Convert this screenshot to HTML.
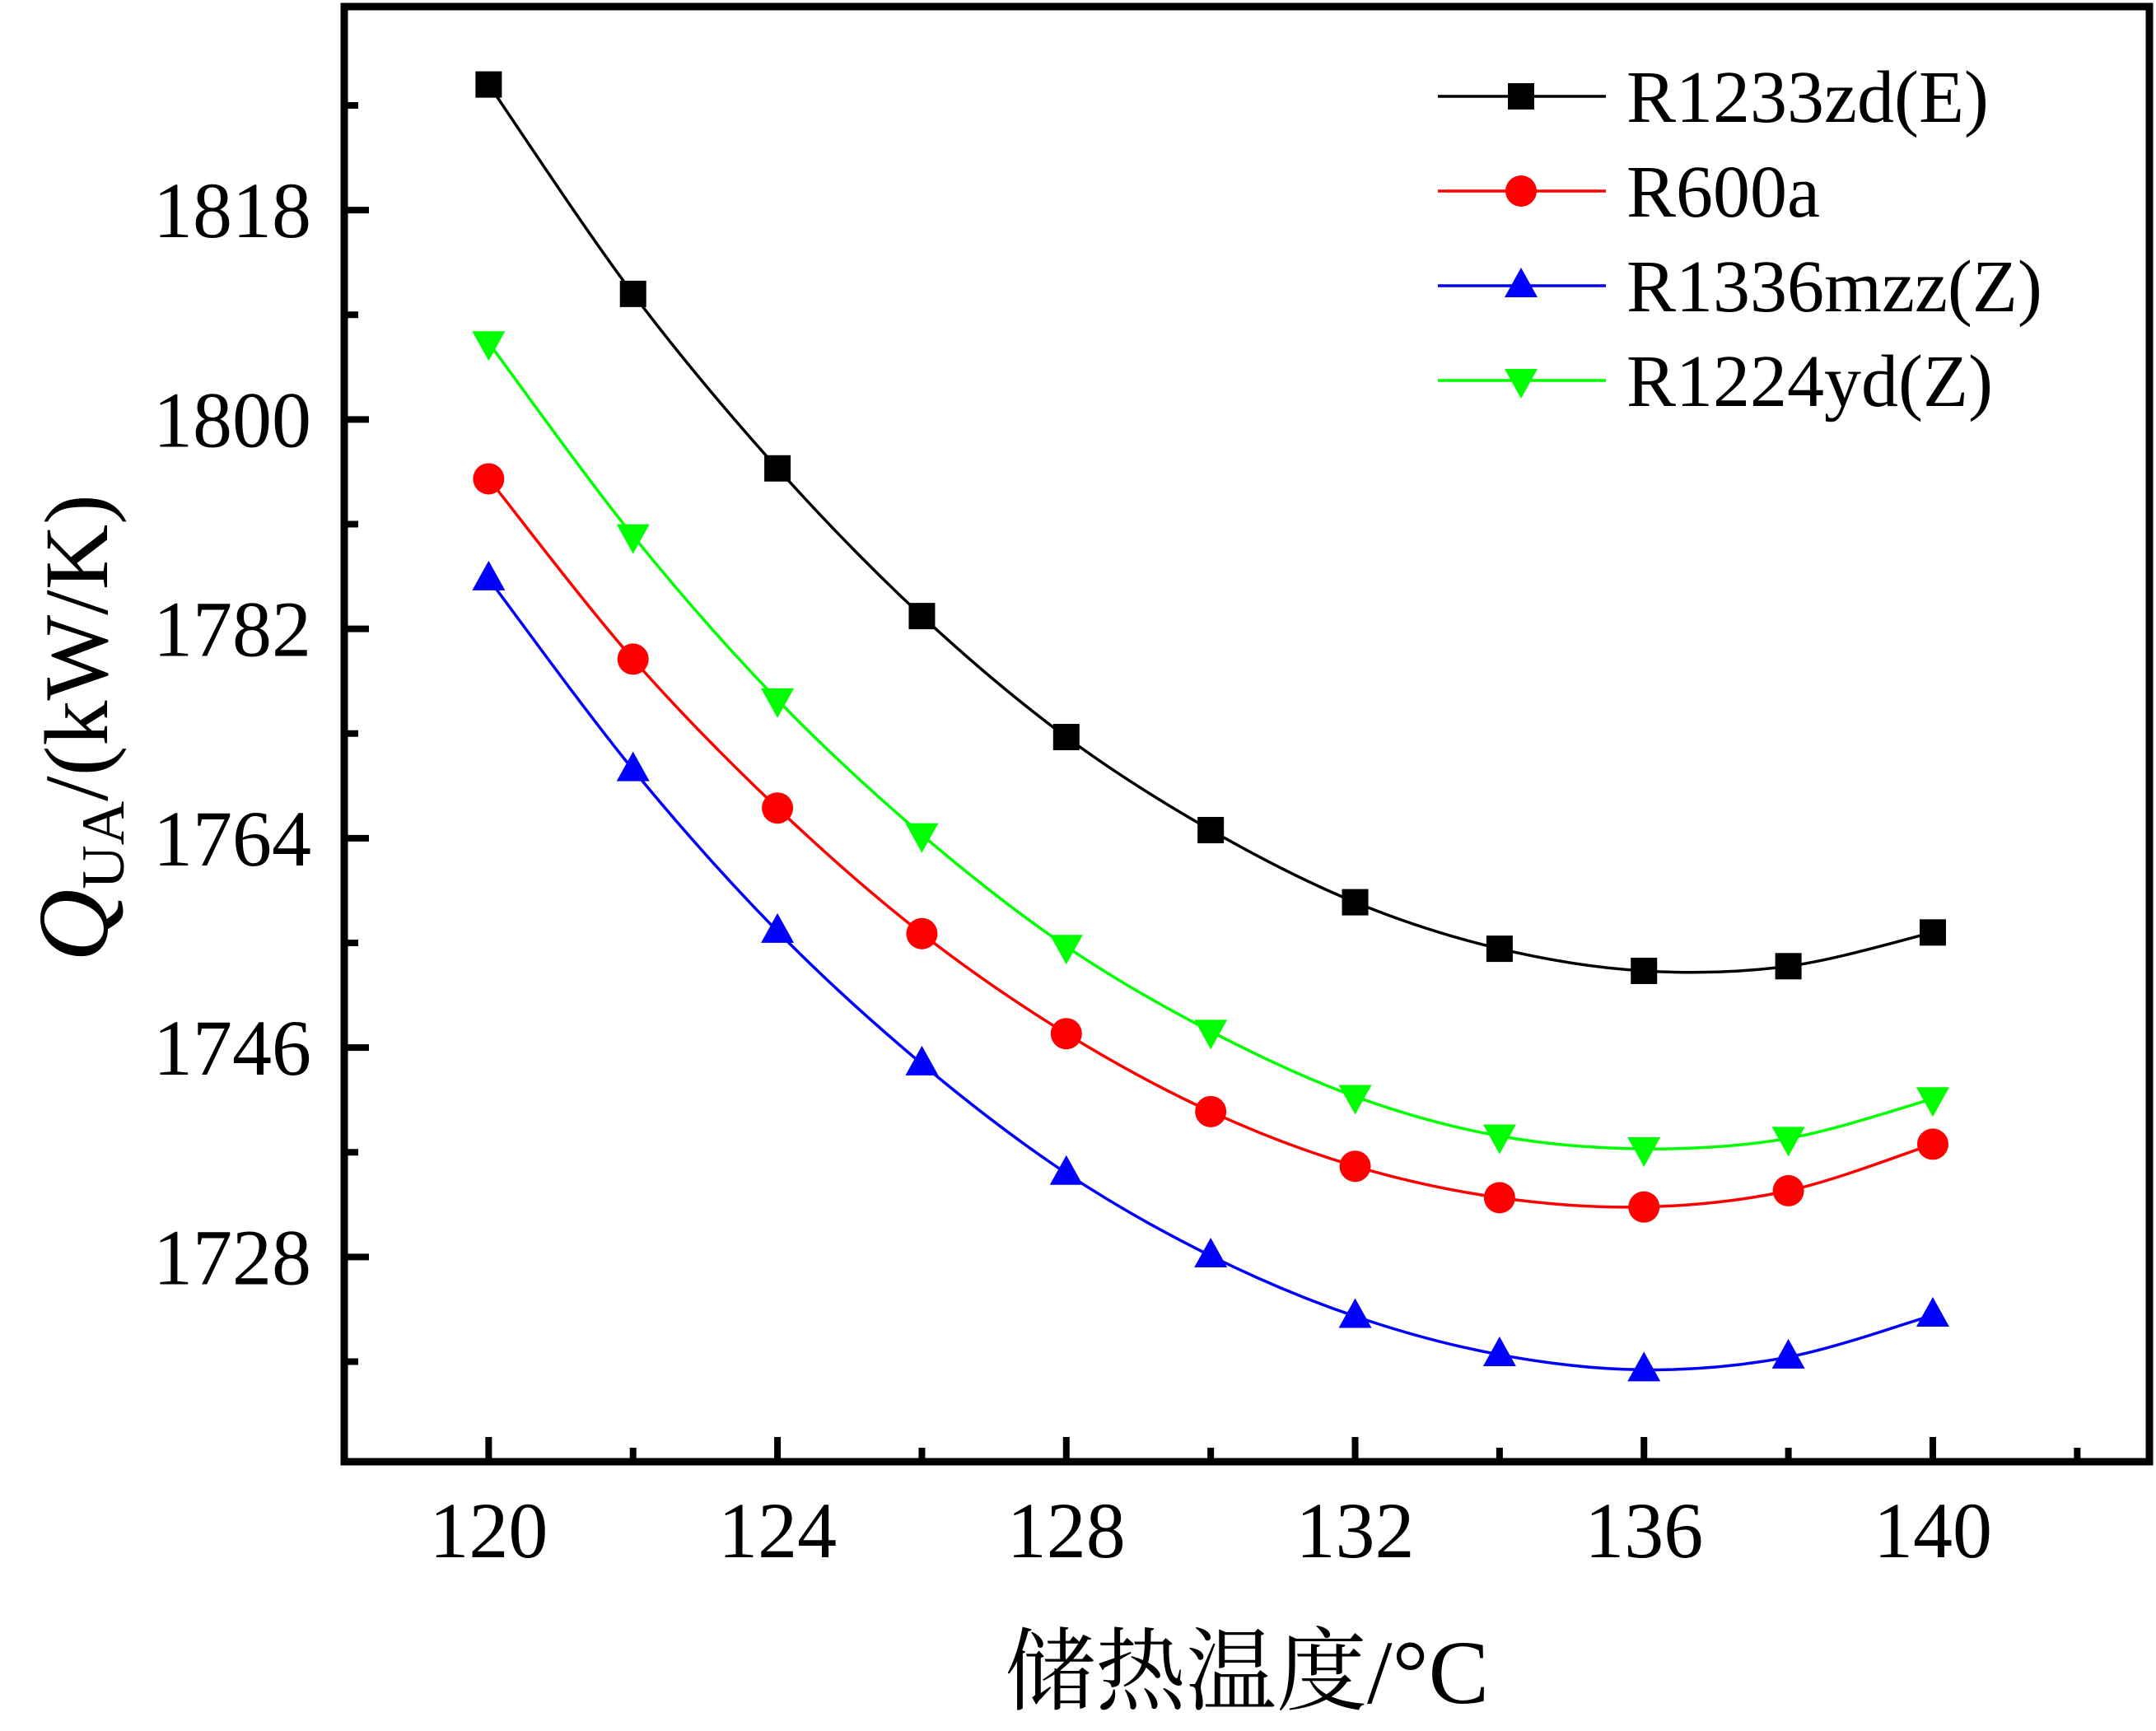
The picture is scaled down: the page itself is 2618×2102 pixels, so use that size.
<!DOCTYPE html>
<html><head><meta charset="utf-8"><style>
html,body{margin:0;padding:0;background:#fff;}
svg{display:block;}
text{font-family:"Liberation Serif","Noto Serif CJK SC","Noto Sans CJK SC",serif;fill:#000;}
</style></head><body>
<svg id="chart" width="2618" height="2102" viewBox="0 0 2618 2102">
<g id="plot"></g>
<g id="axes"></g>
<g id="legend"></g>
<text x="1514" y="2068" font-size="110" text-anchor="middle">储热温度/°C</text>
<text transform="translate(130,884) rotate(-90)" font-size="110" text-anchor="middle"><tspan font-style="italic" font-size="122">Q</tspan><tspan font-size="74" dy="20">UA</tspan><tspan dy="-20">/(kW/K)</tspan></text>
</svg>
<script>
const categories = [120,122,124,126,128,130,132,134,136,138,140];
const seriesR1233 = [1828.8,1810.8,1795.8,1783.1,1772.7,1764.7,1758.5,1754.5,1752.6,1753.0,1755.9];
const seriesR600a = [1794.9,1779.4,1766.6,1755.8,1747.2,1740.5,1735.8,1733.1,1732.3,1733.7,1737.7];
const seriesR1336 = [1786.3,1769.9,1756.0,1744.6,1735.2,1728.1,1722.9,1719.6,1718.3,1719.4,1723.0];
const seriesR1224 = [1806.6,1790.0,1775.9,1764.3,1754.7,1747.4,1741.8,1738.4,1737.3,1738.2,1741.6];
const seriesNames = ["R1233zd(E)","R600a","R1336mzz(Z)","R1224yd(Z)"];
const xTickLabels = [120,124,128,132,136,140];
const xMinorTicks = [122,126,130,134,138,142];
const yTickLabels = [1728,1746,1764,1782,1800,1818];
const yMinorTicks = [1719,1737,1755,1773,1791,1809,1827];

const NS="http://www.w3.org/2000/svg";
const X0=418,X1=2610,Y0=1775,Y1=8;
const xMin=118,xMax=143,yMin=1710.4,yMax=1835.5;
function sx(v){return X0+(v-xMin)/(xMax-xMin)*(X1-X0);}
function sy(v){return Y0-(v-yMin)/(yMax-yMin)*(Y0-Y1);}
function mk(tag,attrs,parent){const e=document.createElementNS(NS,tag);for(const k in attrs)e.setAttribute(k,attrs[k]);parent.appendChild(e);return e;}
const plot=document.getElementById('plot'),axes=document.getElementById('axes'),legend=document.getElementById('legend');

const styles=[{c:"#000000",m:"square"},{c:"#ff0000",m:"circle"},{c:"#0000ff",m:"up"},{c:"#00ff00",m:"down"}];
const allSeries=[seriesR1233,seriesR600a,seriesR1336,seriesR1224];

function marker(type,x,y,c,parent){
  let e;
  if(type==="square"){e=mk('rect',{x:x-16,y:y-16,width:32,height:32,fill:c},parent);}
  else if(type==="circle"){e=mk('circle',{cx:x,cy:y,r:19,fill:c},parent);}
  else if(type==="up"){e=mk('polygon',{points:`${x},${y-22} ${x-20},${y+14} ${x+20},${y+14}`,fill:c},parent);}
  else {e=mk('polygon',{points:`${x},${y+22} ${x-20},${y-14} ${x+20},${y-14}`,fill:c},parent);}
  return e;
}
function smoothPath(pts){
  let d=`M${pts[0][0]},${pts[0][1]}`;
  for(let i=0;i<pts.length-1;i++){
    const p0=pts[i-1]||pts[i],p1=pts[i],p2=pts[i+1],p3=pts[i+2]||p2;
    const c1=[p1[0]+(p2[0]-p0[0])/6,p1[1]+(p2[1]-p0[1])/6];
    const c2=[p2[0]-(p3[0]-p1[0])/6,p2[1]-(p3[1]-p1[1])/6];
    d+=` C${c1[0]},${c1[1]} ${c2[0]},${c2[1]} ${p2[0]},${p2[1]}`;
  }
  return d;
}
allSeries.forEach((s,i)=>{
  const st=styles[i];
  const pts=categories.map((c,j)=>[sx(c),sy(s[j])]);
  const g=mk('g',{},plot);
  
  
  const p=mk('path',{d:smoothPath(pts),fill:'none',stroke:st.c,'stroke-width':3.5},g);
  
  
  pts.forEach(pt=>{
    const m=marker(st.m,pt[0],pt[1],st.c,g);
    
    
  });
  const ly=117+i*115;
  const lg=mk('g',{},legend);
  
  
  mk('line',{x1:1746,x2:1950,y1:ly,y2:ly,stroke:st.c,'stroke-width':3.5},lg);
  marker(st.m,1847,ly,st.c,lg);
  const t=mk('text',{x:1975,y:ly+31,'font-size':90},lg);
  t.textContent=seriesNames[i];
});

const fr=mk('rect',{x:X0,y:Y1,width:X1-X0,height:Y0-Y1,fill:'none',stroke:'#000','stroke-width':9},axes);


xTickLabels.forEach(v=>{
  const x=sx(v);
  mk('line',{x1:x,x2:x,y1:Y0,y2:Y0-30,stroke:'#000','stroke-width':8},axes);
  const t=mk('text',{x:x,y:1891,'font-size':96,'text-anchor':'middle'},axes);
  
  
  t.textContent=v;
});
xMinorTicks.forEach(v=>{const x=sx(v);mk('line',{x1:x,x2:x,y1:Y0,y2:Y0-17,stroke:'#000','stroke-width':8},axes);});
yTickLabels.forEach(v=>{
  const y=sy(v);
  mk('line',{x1:X0,x2:X0+30,y1:y,y2:y,stroke:'#000','stroke-width':8},axes);
  const t=mk('text',{x:378,y:y+33,'font-size':96,'text-anchor':'end'},axes);
  
  
  t.textContent=v;
});
yMinorTicks.forEach(v=>{const y=sy(v);mk('line',{x1:X0,x2:X0+17,y1:y,y2:y,stroke:'#000','stroke-width':8},axes);});
</script>
</body></html>
